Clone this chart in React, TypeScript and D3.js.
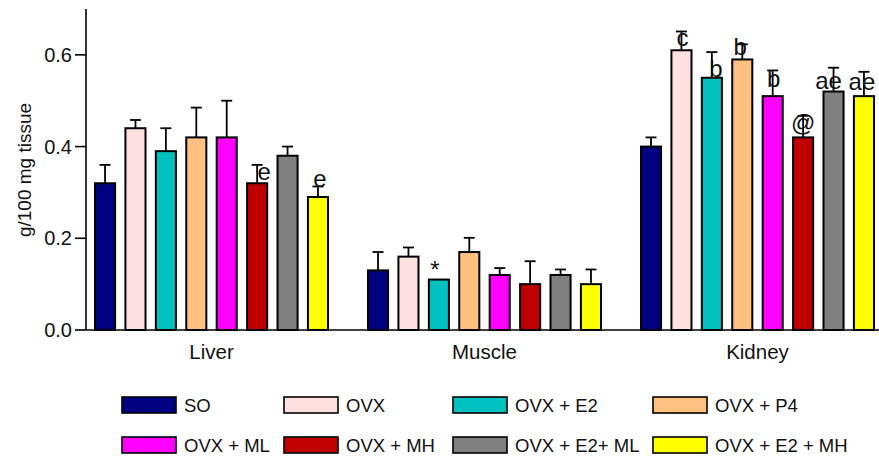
import React from "react";
import * as d3 from "d3";

// Tissue groups and treatment series
const tissues = ["Liver", "Muscle", "Kidney"];
const treatments = [
  "SO",
  "OVX",
  "OVX + E2",
  "OVX + P4",
  "OVX + ML",
  "OVX + MH",
  "OVX + E2+ ML",
  "OVX + E2 + MH",
];
const treatmentColors = [
  "#000080",
  "#FFE0E0",
  "#00C0C0",
  "#FFC080",
  "#FF00FF",
  "#C00000",
  "#808080",
  "#FFFF00",
];

// Mean values (g/100 mg tissue), one entry per treatment
const liverMeans = [0.32, 0.44, 0.39, 0.42, 0.42, 0.32, 0.38, 0.29];
const muscleMeans = [0.13, 0.16, 0.11, 0.17, 0.12, 0.1, 0.12, 0.1];
const kidneyMeans = [0.4, 0.61, 0.55, 0.59, 0.51, 0.42, 0.52, 0.51];

// Upper error bar lengths
const liverErrors = [0.04, 0.018, 0.05, 0.065, 0.08, 0.04, 0.02, 0.023];
const muscleErrors = [0.04, 0.02, 0, 0.031, 0.015, 0.05, 0.012, 0.032];
const kidneyErrors = [0.02, 0.041, 0.056, 0.033, 0.056, 0.047, 0.052, 0.053];

// Significance marks above bars ("" = none)
const liverMarks = ["", "", "", "", "", "e", "", "e"];
const muscleMarks = ["", "", "*", "", "", "", "", ""];
const kidneyMarks = ["", "c", "b", "b", "b", "@", "ae", "ae"];

const yTicks = [0, 0.2, 0.4, 0.6];

const meansByTissue = [liverMeans, muscleMeans, kidneyMeans];
const errorsByTissue = [liverErrors, muscleErrors, kidneyErrors];
const marksByTissue = [liverMarks, muscleMarks, kidneyMarks];

// Fine placement of the significance letters (dx from bar centre, dy from error cap)
const markNudge: Record<string, [number, number]> = {
  "0-5": [7, 15],
  "0-7": [2, 1],
  "1-2": [-4, -2],
  "2-1": [1, 15],
  "2-2": [4, 25],
  "2-3": [-2, 11],
  "2-4": [1, 17],
  "2-5": [0, 15],
  "2-6": [-5, 21],
  "2-7": [-2, 18],
};

const W = 879;
const H = 458;
const FONT = "Arial, 'Liberation Sans', Helvetica, sans-serif";

export default function App() {
  const axisX = 86;
  const axisRight = 879;

  const y = d3.scaleLinear().domain([0, 0.7]).range([330, 9]);

  const x0 = d3
    .scaleBand<string>()
    .domain(tissues)
    .range([75, 894])
    .paddingInner(0.1465)
    .paddingOuter(0.0733);

  const x1 = d3
    .scaleBand<string>()
    .domain(treatments)
    .range([0, x0.bandwidth()])
    .paddingInner(0.34)
    .paddingOuter(0);

  const capHalf = 5.5;

  // Legend grid
  const legendCols = [122, 284, 453, 653];
  const legendRows = [397, 437];

  return (
    <svg
      width={W}
      height={H}
      style={{ position: "absolute", left: 0, top: 0, background: "#fff" }}
      fontFamily={FONT}
    >
      <rect x={0} y={0} width={W} height={H} fill="#fff" />

      {/* bars */}
      {tissues.map((t, gi) => (
        <g key={t} transform={`translate(${x0(t)},0)`}>
          {treatments.map((tr, i) => {
            const v = meansByTissue[gi][i];
            const e = errorsByTissue[gi][i];
            const bx = x1(tr)!;
            const bw = x1.bandwidth();
            const cx = bx + bw / 2;
            const top = y(v);
            const cap = y(v + e);
            const mark = marksByTissue[gi][i];
            const nudge = markNudge[`${gi}-${i}`] || [0, 0];
            return (
              <g key={tr}>
                {e > 0 && (
                  <g stroke="#000" strokeWidth={1.8}>
                    <line x1={cx} x2={cx} y1={top} y2={cap} />
                    <line x1={cx - capHalf} x2={cx + capHalf} y1={cap} y2={cap} />
                  </g>
                )}
                <rect
                  x={bx}
                  y={top}
                  width={bw}
                  height={y(0) - top}
                  fill={treatmentColors[i]}
                  stroke="#000"
                  strokeWidth={2}
                />
                {mark && (
                  <text
                    x={cx + nudge[0]}
                    y={cap + nudge[1]}
                    textAnchor="middle"
                    fontSize={24}
                    fill="#111"
                  >
                    {mark}
                  </text>
                )}
              </g>
            );
          })}
        </g>
      ))}

      {/* axes */}
      <line x1={axisX} x2={axisX} y1={y(0.7)} y2={y(0)} stroke="#000" strokeWidth={1.6} />
      <line x1={axisX} x2={axisRight} y1={y(0)} y2={y(0)} stroke="#000" strokeWidth={1.6} />
      {yTicks.map((t) => (
        <g key={t}>
          <line x1={axisX - 11} x2={axisX} y1={y(t)} y2={y(t)} stroke="#000" strokeWidth={1.6} />
          <text
            x={axisX - 14}
            y={y(t)}
            textAnchor="end"
            dominantBaseline="central"
            fontSize={20}
            fill="#111"
          >
            {d3.format(".1f")(t)}
          </text>
        </g>
      ))}
      <text
        transform={`translate(24,${170}) rotate(-90)`}
        textAnchor="middle"
        dominantBaseline="central"
        fontSize={19}
        fill="#111"
      >
        g/100 mg tissue
      </text>

      {tissues.map((t) => (
        <text
          key={t}
          x={x0(t)! + x0.bandwidth() / 2}
          y={359}
          textAnchor="middle"
          fontSize={20.5}
          fill="#111"
        >
          {t}
        </text>
      ))}

      {/* legend */}
      {treatments.map((tr, i) => {
        const lx = legendCols[i % 4];
        const ly = legendRows[Math.floor(i / 4)];
        return (
          <g key={tr}>
            <rect
              x={lx}
              y={ly}
              width={54}
              height={16}
              fill={treatmentColors[i]}
              stroke="#000"
              strokeWidth={1.6}
            />
            <text x={lx + 62} y={ly + 15} fontSize={18.5} fill="#111">
              {tr}
            </text>
          </g>
        );
      })}
    </svg>
  );
}
